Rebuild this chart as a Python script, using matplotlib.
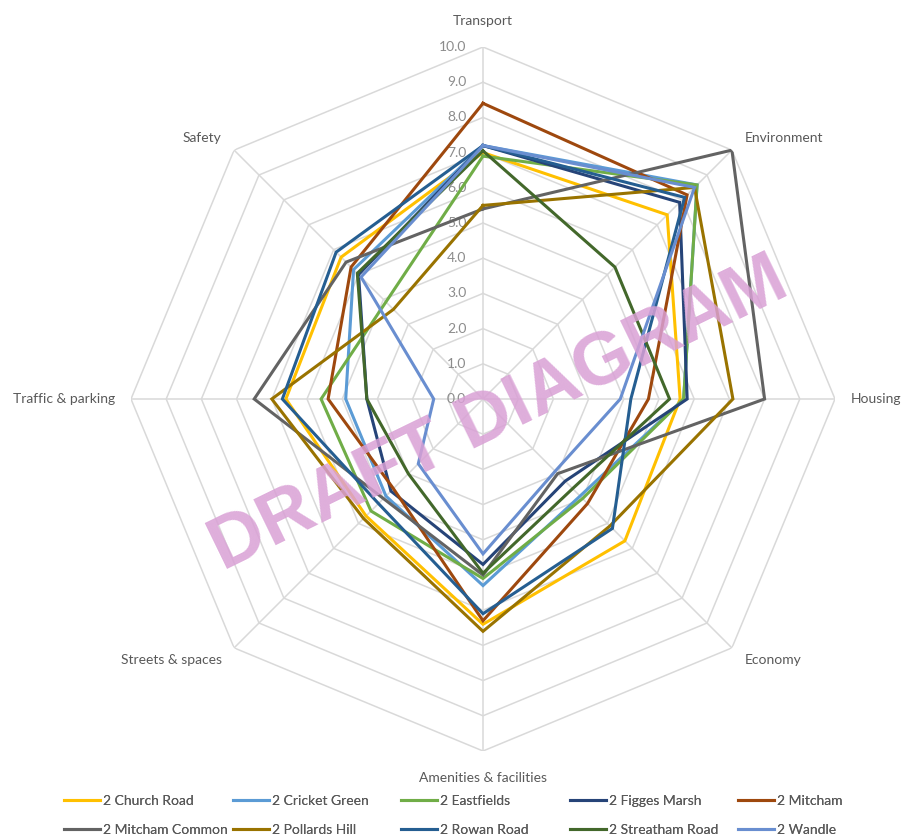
import numpy as np
import matplotlib.pyplot as plt

plt.rcParams['font.family'] = ['Lato', 'DejaVu Sans']

categories = ['Transport', 'Environment', 'Housing', 'Economy',
              'Amenities & facilities', 'Streets & spaces', 'Traffic & parking', 'Safety']

church_road = [7.0, 7.4, 5.6, 5.7, 6.4, 4.7, 5.6, 5.7]
cricket_green = [7.2, 8.6, 5.7, 3.9, 5.3, 3.9, 3.9, 5.2]
eastfields = [6.9, 8.6, 5.7, 4.0, 5.1, 4.5, 4.6, 3.9]
figges_marsh = [7.2, 7.9, 5.8, 3.3, 4.7, 3.7, 3.3, 5.0]
mitcham = [8.4, 8.2, 4.7, 4.2, 6.3, 3.6, 4.4, 5.3]
mitcham_common = [5.4, 10.0, 8.0, 3.0, 5.0, 4.0, 6.5, 5.5]
pollards_hill = [5.5, 8.5, 7.1, 5.1, 6.6, 4.8, 6.0, 3.6]
rowan_road = [7.2, 8.1, 4.2, 5.2, 6.1, 4.2, 5.7, 5.9]
streatham_road = [7.05, 5.3, 5.3, 3.6, 4.95, 3.0, 3.3, 5.05]
wandle = [7.2, 8.5, 3.9, 2.9, 4.4, 2.6, 1.4, 4.9]

series = [
    ('2 Church Road', church_road, '#FFC000'),
    ('2 Cricket Green', cricket_green, '#5B9BD5'),
    ('2 Eastfields', eastfields, '#70AD47'),
    ('2 Figges Marsh', figges_marsh, '#264478'),
    ('2 Mitcham', mitcham, '#9E480E'),
    ('2 Mitcham Common', mitcham_common, '#636363'),
    ('2 Pollards Hill', pollards_hill, '#997300'),
    ('2 Rowan Road', rowan_road, '#255E91'),
    ('2 Streatham Road', streatham_road, '#43682B'),
    ('2 Wandle', wandle, '#698ED0'),
]

rings = np.arange(0, 11, 1.0)

W, H = 902, 838
fig = plt.figure(figsize=(W / 100, H / 100), dpi=100)
cx, cy, R = 483, 399, 352
ax = fig.add_axes([(cx - R) / W, (H - cy - R) / H, 2 * R / W, 2 * R / H], projection='polar')
ax.set_theta_zero_location('N')
ax.set_theta_direction(-1)
ax.set_ylim(0, 10)
ax.grid(False)
ax.spines['polar'].set_visible(False)
ax.set_xticks([])
ax.set_yticks([])
ax.patch.set_visible(False)

n = len(categories)
theta = np.linspace(0, 2 * np.pi, n, endpoint=False)
theta_c = np.append(theta, theta[0])

# octagon gridlines + spokes
for r in rings[1:]:
    ax.plot(theta_c, [r] * (n + 1), color='#D9D9D9', lw=1.1, zorder=1)
for t in theta:
    ax.plot([t, t], [0, 10], color='#D9D9D9', lw=1.1, zorder=1)

for r in rings:
    ax.annotate(f'{r:.1f}', xy=(0, r), xytext=(-12, 0), textcoords='offset points',
                ha='right', va='center', fontsize=10, color='#8C8C8C')

# category labels
label_pos = [(10.75, 'center', 'center'), (10.5, 'left', 'center'), (10.45, 'left', 'center'),
             (10.5, 'left', 'center'), (10.77, 'center', 'center'), (10.5, 'right', 'center'),
             (10.45, 'right', 'center'), (10.5, 'right', 'center')]
for t, lab, (rr, ha, va) in zip(theta, categories, label_pos):
    ax.text(t, rr, lab, ha=ha, va=va, fontsize=10, color='#595959')

for name, vals, col in series:
    v = np.append(vals, vals[0])
    ax.plot(theta_c, v, color=col, lw=2.2, label=name, zorder=3, solid_joinstyle='miter')

# legend: 5 fixed-width columns, 2 rows (row-wise order like Excel)
handles, labels = ax.get_legend_handles_labels()
col_x = [64, 233, 401, 570, 738]
for i, x in enumerate(col_x):
    lg = fig.legend([handles[i], handles[i + 5]], [labels[i], labels[i + 5]],
                    loc='upper left', bbox_to_anchor=(x / W, 1 - 795 / H),
                    frameon=False, fontsize=10, handlelength=2.6, handletextpad=0.2,
                    labelspacing=1.2, borderpad=0, borderaxespad=0, labelcolor='#595959')
    fig.add_artist(lg)

fig.text(499 / W, 1 - 414 / H, 'DRAFT DIAGRAM', rotation=26, ha='center', va='center',
         fontsize=54, color='#D9A0D5', alpha=0.85, fontweight='bold',
         family='Liberation Sans', rotation_mode='anchor', zorder=10)

fig.savefig('out.png', dpi=100)
